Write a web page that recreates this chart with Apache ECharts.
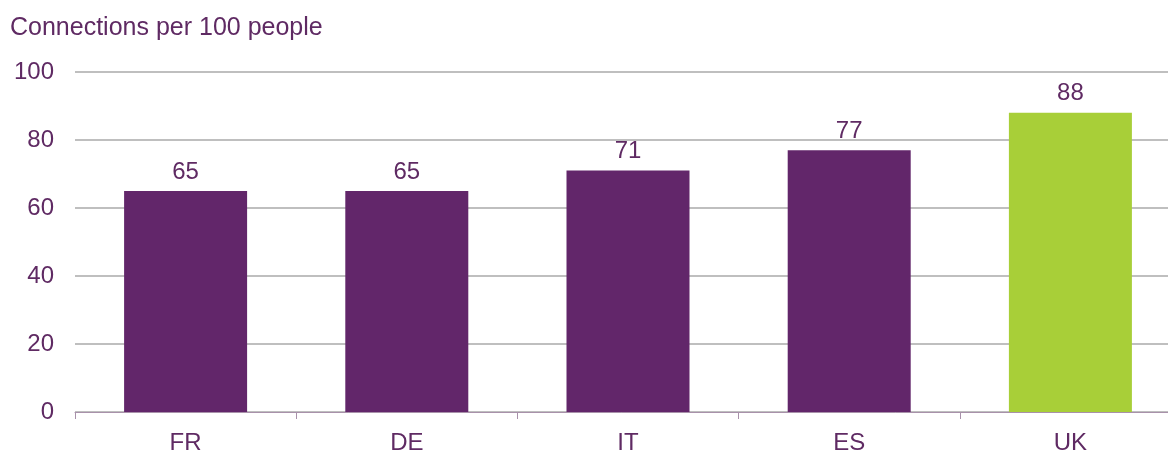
<!DOCTYPE html>
<html>
<head>
<meta charset="utf-8">
<script src="https://cdn.jsdelivr.net/npm/echarts@6/dist/echarts.min.js"></script>
<style>
  html, body { margin: 0; padding: 0; background: #fff; }
  #chart { width: 1168px; height: 451px; }
</style>
</head>
<body>
<div id="chart"></div>
<script>
const countries = ['FR', 'DE', 'IT', 'ES', 'UK']
const connections = [65, 65, 71, 77, 88]
const highlight = 'UK'

const purple = '#62266a'
const green = '#a8cf38'
const textColor = '#5f2a63'
const font = 'Liberation Sans, Arial, sans-serif'

const chart = echarts.init(document.getElementById('chart'))
chart.setOption({
  animation: false,
  title: {
    text: 'Connections per 100 people',
    left: 10,
    top: 16,
    padding: 0,
    textStyle: { color: textColor, fontFamily: font, fontSize: 25, fontWeight: 'normal' }
  },
  // the plot runs a little past the right edge of the picture
  grid: { left: 75, top: 72, width: 1106, bottom: 39, outerBoundsMode: 'none' },
  xAxis: {
    type: 'category',
    data: countries,
    axisLine: { lineStyle: { color: '#a891aa', width: 1 } },
    axisTick: { show: true, length: 7, lineStyle: { color: '#a891aa' } },
    axisLabel: { color: textColor, fontFamily: font, fontSize: 24, margin: 19 }
  },
  yAxis: {
    type: 'value',
    min: 0,
    max: 100,
    interval: 20,
    axisLine: { show: false },
    axisTick: { show: false },
    axisLabel: { color: textColor, fontFamily: font, fontSize: 24, margin: 21 },
    splitLine: { lineStyle: { color: '#bfbfbf', width: 2 } }
  },
  series: [
    {
      type: 'bar',
      barWidth: 123,
      data: connections.map((v, i) => ({
        value: v,
        itemStyle: { color: countries[i] === highlight ? green : purple }
      })),
      label: {
        show: true,
        position: 'top',
        distance: 7,
        color: textColor,
        fontFamily: font,
        fontSize: 24
      }
    }
  ]
})
</script>
</body>
</html>
